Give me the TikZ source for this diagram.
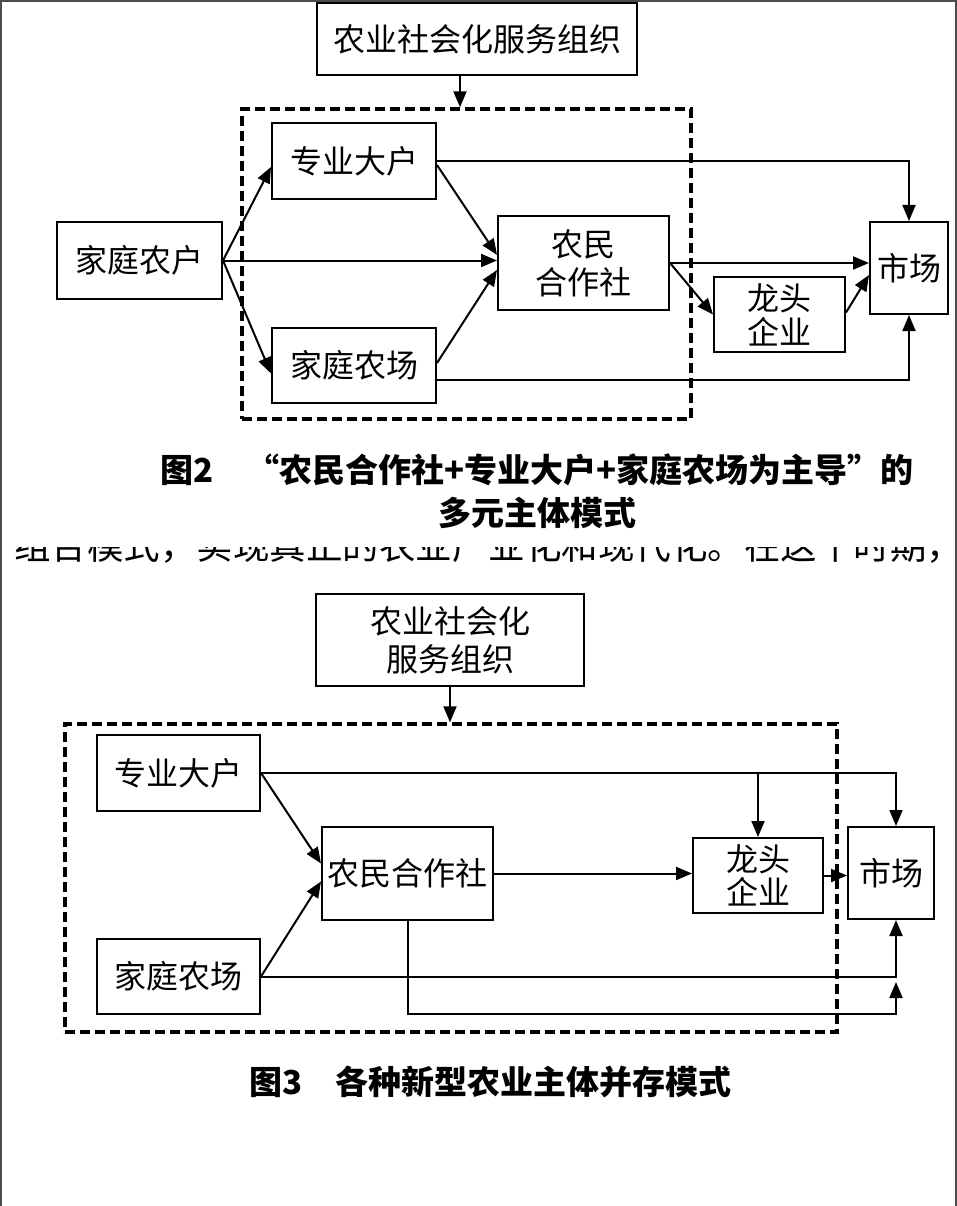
\documentclass[tikz,border=0pt]{standalone}
\usepackage{fontspec}
\setmainfont{Noto Sans CJK SC}
\usetikzlibrary{arrows.meta}

\begin{document}
\begin{tikzpicture}[x=1pt, y=-1pt,
    box/.style={draw, line width=2pt, inner sep=0pt, align=center,
      font=\fontsize{32}{38}\selectfont},
    kuang/.style={draw, line width=3.4pt, dash pattern=on 10pt off 5pt, inner sep=0pt},
    jt/.style={-{Triangle[length=16pt,width=13pt]}, line width=2pt},
    tizhu/.style={align=center, font=\fontsize{33}{43}\selectfont\bfseries}]
    \useasboundingbox (0,0) rectangle (957,1206);
    \draw[gray!60!black, line width=2.5pt] (1,1206) -- (1,1.2) -- (955.8,1.2) -- (955.8,1206);
    % figure 2
    \node[box, minimum width=320pt, minimum height=72pt] (fwzz2) at (477,39) {农业社会化服务组织};
    \node[kuang, minimum width=449pt, minimum height=310pt] (kuang2) at (466.5,264) {};
    \node[box, minimum width=165pt, minimum height=77pt] (jtnh2) at (139.5,260.5) {家庭农户};
    \node[box, minimum width=164pt, minimum height=76pt] (zydh2) at (354,161) {专业大户};
    \node[box, minimum width=164pt, minimum height=75pt] (jtnc2) at (354,365.5) {家庭农场};
    \node[box, minimum width=171pt, minimum height=93pt] (hzs2) at (583.5,263) {农民\\合作社};
    \node[box, minimum width=131pt, minimum height=75pt, font=\fontsize{32}{34}\selectfont] (ltqy2) at (779.5,314.5) {龙头\\企业};
    \node[box, minimum width=78pt, minimum height=92pt] (sc2) at (909,268) {市场};
    \draw[jt] ([xshift=-17pt]fwzz2.south) -- ([xshift=-17pt]fwzz2.south |- kuang2.north);
    \draw[jt] (jtnh2.east) -- ([yshift=-6pt]zydh2.west);
    \draw[jt] (jtnh2.east) -- (jtnh2.east -| hzs2.west);
    \draw[jt] (jtnh2.east) -- ([yshift=-8pt]jtnc2.west);
    \draw[jt] ([yshift=-4pt]zydh2.east) -- ([yshift=8pt]hzs2.west);
    \draw[jt] ([yshift=2.5pt]jtnc2.east) -- ([yshift=-7pt]hzs2.west);
    \draw[jt] (zydh2.east) -| (sc2.north);
    \draw[jt] ([yshift=-14.5pt]jtnc2.east) -| (sc2.south);
    \draw[jt] (hzs2.east) -- (hzs2.east -| sc2.west);
    \draw[jt] (hzs2.east) -- (ltqy2.west);
    \draw[jt] ([yshift=2pt]ltqy2.east) -- ([yshift=-7pt]sc2.west);
    \node[tizhu] (tz2) at (537,491) {图2\quad “农民合作社+专业大户+家庭农场为主导”的\\多元主体模式};
    \begin{scope}
      \clip (0,547) rectangle (957,575);
      \node[anchor=base west, inner sep=0pt, font=\fontsize{36.5}{40}\selectfont] (zw) at (14,559) {组合模式，实现真正的农业产业化和现代化。在这个时期，};
    \end{scope}
    % figure 3
    \node[box, minimum width=268pt, minimum height=92pt] (fwzz3) at (450,640) {农业社会化\\服务组织};
    \node[kuang, minimum width=772pt, minimum height=308pt] (kuang3) at (451,878) {};
    \node[box, minimum width=163pt, minimum height=76pt] (zydh3) at (178.5,773) {专业大户};
    \node[box, minimum width=163pt, minimum height=75pt] (jtnc3) at (178.5,976.5) {家庭农场};
    \node[box, minimum width=171pt, minimum height=93pt] (hzs3) at (407.5,873.5) {农民合作社};
    \node[box, minimum width=130pt, minimum height=75pt, font=\fontsize{32}{33}\selectfont] (ltqy3) at (758,875.5) {龙头\\企业};
    \node[box, minimum width=86pt, minimum height=92pt] (sc3) at (891,873) {市场};
    \coordinate (zhe3) at (896,1014);
    \coordinate (jian3) at (896,982);
    \draw[jt] (fwzz3.south) -- (fwzz3.south |- kuang3.north);
    \draw[jt] (zydh3.east) -| ([xshift=5pt]sc3.north);
    \draw[jt] (ltqy3.north |- zydh3.east) -- (ltqy3.north);
    \draw[jt] (zydh3.east) -- ([yshift=10pt]hzs3.west);
    \draw[jt] (jtnc3.east) -- ([yshift=-8pt]hzs3.west);
    \draw[jt] (jtnc3.east) -| ([xshift=5pt]sc3.south);
    \draw[jt] (hzs3.east) -- (hzs3.east -| ltqy3.west);
    \draw[jt] (ltqy3.east) -- (ltqy3.east -| sc3.west);
    \draw[jt] (hzs3.south) |- (zhe3) -- (jian3);
    \node[tizhu] (tz3) at (490.5,1082) {图3\quad 各种新型农业主体并存模式};
\end{tikzpicture}
\end{document}
